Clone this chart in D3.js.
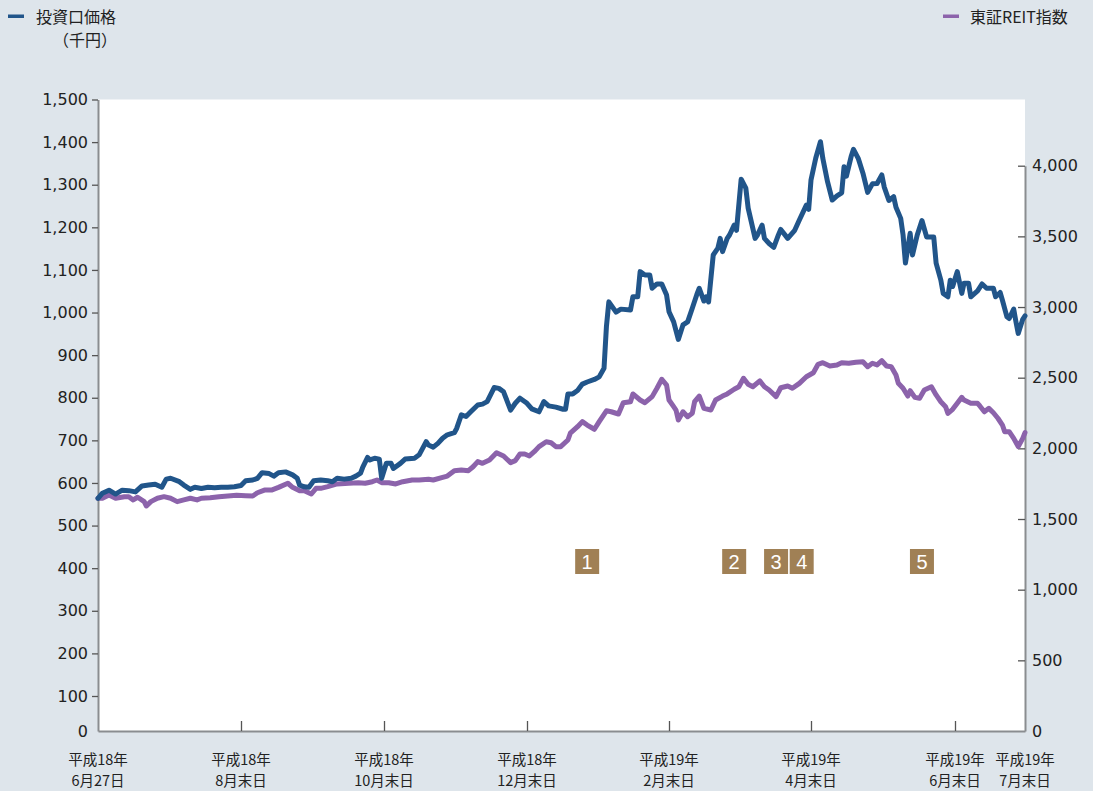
<!DOCTYPE html>
<html><head><meta charset="utf-8">
<script src="https://cdn.jsdelivr.net/npm/d3@7"></script>
<style>
html,body{margin:0;padding:0;background:#dee5eb;}
svg{display:block;}
</style></head><body>
<svg id="chart" width="1093" height="791"></svg>
<script>
// ---- DATA ----
const priceDates = ["2006-06-27","2006-06-29","2006-07-02","2006-07-05","2006-07-08","2006-07-11","2006-07-14","2006-07-17","2006-07-20","2006-07-23","2006-07-26","2006-07-28","2006-07-30","2006-08-03","2006-08-05","2006-08-08","2006-08-10","2006-08-13","2006-08-16","2006-08-19","2006-08-22","2006-08-25","2006-08-28","2006-08-31","2006-09-02","2006-09-05","2006-09-07","2006-09-09","2006-09-12","2006-09-14","2006-09-16","2006-09-19","2006-09-22","2006-09-24","2006-09-25","2006-09-27","2006-09-29","2006-10-01","2006-10-04","2006-10-07","2006-10-09","2006-10-11","2006-10-14","2006-10-17","2006-10-19","2006-10-21","2006-10-22","2006-10-24","2006-10-25","2006-10-27","2006-10-29","2006-10-30","2006-11-01","2006-11-03","2006-11-04","2006-11-07","2006-11-09","2006-11-13","2006-11-15","2006-11-18","2006-11-19","2006-11-21","2006-11-23","2006-11-25","2006-11-27","2006-11-30","2006-12-01","2006-12-03","2006-12-05","2006-12-07","2006-12-10","2006-12-12","2006-12-14","2006-12-17","2006-12-19","2006-12-21","2006-12-24","2006-12-26","2006-12-28","2006-12-31","2007-01-02","2007-01-05","2007-01-07","2007-01-09","2007-01-12","2007-01-15","2007-01-16","2007-01-17","2007-01-19","2007-01-21","2007-01-23","2007-01-25","2007-01-28","2007-01-30","2007-02-01","2007-02-02","2007-02-03","2007-02-06","2007-02-08","2007-02-12","2007-02-13","2007-02-15","2007-02-16","2007-02-18","2007-02-20","2007-02-21","2007-02-23","2007-02-25","2007-02-27","2007-02-28","2007-03-02","2007-03-04","2007-03-06","2007-03-08","2007-03-10","2007-03-12","2007-03-13","2007-03-15","2007-03-16","2007-03-17","2007-03-19","2007-03-21","2007-03-22","2007-03-23","2007-03-25","2007-03-26","2007-03-28","2007-03-29","2007-03-31","2007-04-02","2007-04-03","2007-04-06","2007-04-07","2007-04-09","2007-04-10","2007-04-12","2007-04-14","2007-04-16","2007-04-17","2007-04-20","2007-04-23","2007-04-25","2007-04-28","2007-04-29","2007-04-30","2007-05-02","2007-05-04","2007-05-05","2007-05-07","2007-05-09","2007-05-11","2007-05-13","2007-05-14","2007-05-15","2007-05-17","2007-05-18","2007-05-20","2007-05-22","2007-05-24","2007-05-26","2007-05-28","2007-05-30","2007-05-31","2007-06-02","2007-06-04","2007-06-05","2007-06-07","2007-06-08","2007-06-09","2007-06-11","2007-06-12","2007-06-14","2007-06-16","2007-06-18","2007-06-21","2007-06-22","2007-06-24","2007-06-25","2007-06-27","2007-06-28","2007-06-29","2007-07-01","2007-07-03","2007-07-04","2007-07-06","2007-07-07","2007-07-10","2007-07-12","2007-07-14","2007-07-17","2007-07-18","2007-07-20","2007-07-21","2007-07-23","2007-07-24","2007-07-26","2007-07-27","2007-07-28","2007-07-30","2007-07-31"];
const priceValues = [564,576,583,574,583,582,579,593,595,597,590,609,611,603,595,585,590,587,590,589,590,590,591,594,605,607,611,624,622,616,624,626,619,611,595,591,590,605,607,605,603,611,609,611,616,623,638,660,654,658,656,611,646,646,634,646,656,658,666,697,689,684,693,705,713,718,728,760,756,767,783,785,791,824,822,814,771,787,799,787,774,767,791,781,778,773,773,809,809,817,832,837,843,849,869,967,1025,1001,1008,1006,1037,1037,1096,1088,1088,1057,1067,1067,1041,1002,978,937,971,978,1010,1043,1057,1027,1037,1025,1135,1151,1174,1143,1174,1182,1205,1193,1313,1292,1245,1174,1182,1205,1174,1162,1153,1182,1195,1174,1193,1217,1252,1242,1311,1362,1401,1362,1307,1264,1274,1281,1342,1320,1366,1383,1362,1327,1282,1302,1303,1323,1295,1263,1272,1247,1221,1182,1116,1186,1135,1182,1216,1177,1177,1116,1076,1045,1037,1076,1061,1096,1045,1069,1069,1037,1051,1067,1057,1057,1037,1047,1029,990,986,1008,978,951,984,992];

const reitDates = ["2006-06-27","2006-06-29","2006-07-02","2006-07-05","2006-07-09","2006-07-11","2006-07-13","2006-07-15","2006-07-18","2006-07-19","2006-07-21","2006-07-24","2006-07-27","2006-07-30","2006-08-02","2006-08-05","2006-08-08","2006-08-11","2006-08-13","2006-08-17","2006-08-21","2006-08-25","2006-08-29","2006-09-02","2006-09-05","2006-09-07","2006-09-10","2006-09-13","2006-09-16","2006-09-20","2006-09-22","2006-09-25","2006-09-27","2006-09-30","2006-10-02","2006-10-04","2006-10-07","2006-10-11","2006-10-16","2006-10-20","2006-10-23","2006-10-26","2006-10-28","2006-10-30","2006-11-02","2006-11-05","2006-11-08","2006-11-12","2006-11-15","2006-11-19","2006-11-21","2006-11-25","2006-11-27","2006-11-30","2006-12-03","2006-12-06","2006-12-08","2006-12-10","2006-12-12","2006-12-15","2006-12-18","2006-12-21","2006-12-24","2006-12-26","2006-12-28","2006-12-30","2007-01-01","2007-01-03","2007-01-05","2007-01-08","2007-01-10","2007-01-12","2007-01-14","2007-01-17","2007-01-18","2007-01-21","2007-01-23","2007-01-25","2007-01-28","2007-01-30","2007-02-02","2007-02-04","2007-02-07","2007-02-09","2007-02-12","2007-02-13","2007-02-16","2007-02-18","2007-02-21","2007-02-23","2007-02-25","2007-02-27","2007-02-28","2007-03-02","2007-03-03","2007-03-04","2007-03-06","2007-03-08","2007-03-10","2007-03-11","2007-03-13","2007-03-15","2007-03-18","2007-03-20","2007-03-23","2007-03-25","2007-03-28","2007-03-30","2007-04-01","2007-04-03","2007-04-05","2007-04-08","2007-04-10","2007-04-12","2007-04-15","2007-04-17","2007-04-20","2007-04-22","2007-04-25","2007-04-28","2007-05-01","2007-05-03","2007-05-05","2007-05-08","2007-05-11","2007-05-13","2007-05-16","2007-05-19","2007-05-22","2007-05-24","2007-05-26","2007-05-28","2007-05-30","2007-06-01","2007-06-03","2007-06-05","2007-06-06","2007-06-08","2007-06-10","2007-06-11","2007-06-13","2007-06-15","2007-06-17","2007-06-20","2007-06-22","2007-06-24","2007-06-26","2007-06-27","2007-06-29","2007-07-01","2007-07-03","2007-07-04","2007-07-07","2007-07-10","2007-07-11","2007-07-13","2007-07-15","2007-07-17","2007-07-19","2007-07-21","2007-07-22","2007-07-24","2007-07-26","2007-07-28","2007-07-30","2007-07-31"];
const reitValues = [1647,1647,1670,1647,1658,1658,1635,1654,1623,1592,1623,1647,1658,1647,1623,1635,1647,1635,1647,1651,1658,1663,1668,1665,1663,1686,1705,1705,1724,1753,1724,1700,1700,1677,1717,1717,1729,1748,1753,1757,1753,1764,1776,1757,1757,1748,1764,1776,1776,1781,1776,1795,1804,1842,1847,1842,1870,1906,1894,1918,1969,1946,1899,1913,1960,1960,1946,1976,2012,2047,2040,2012,2012,2059,2107,2153,2189,2165,2135,2189,2266,2259,2243,2323,2330,2385,2342,2323,2366,2425,2489,2448,2342,2295,2271,2201,2259,2224,2248,2330,2370,2283,2271,2342,2370,2385,2418,2436,2496,2453,2436,2477,2436,2413,2366,2429,2441,2425,2460,2507,2535,2595,2606,2583,2590,2606,2602,2609,2613,2578,2602,2590,2620,2583,2578,2519,2460,2425,2370,2408,2361,2354,2413,2436,2378,2330,2295,2248,2276,2319,2361,2342,2319,2319,2300,2259,2283,2252,2213,2165,2118,2118,2071,2012,2071,2111];

const xTickDates = ["2006-06-27","2006-08-31","2006-10-31","2006-12-31","2007-02-28","2007-04-30","2007-06-30","2007-07-31"];
const xTickLabels = [["平成18年","6月27日"],["平成18年","8月末日"],["平成18年","10月末日"],["平成18年","12月末日"],["平成19年","2月末日"],["平成19年","4月末日"],["平成19年","6月末日"],["平成19年","7月末日"]];
const leftTicks = [0,100,200,300,400,500,600,700,800,900,1000,1100,1200,1300,1400,1500];
const rightTicks = [0,500,1000,1500,2000,2500,3000,3500,4000];
const markerDates = ["2007-01-25","2007-03-28","2007-04-15","2007-04-26","2007-06-16"];
const markerLabels = ["1","2","3","4","5"];
const seriesNames = ["投資口価格","東証REIT指数"];
const unitLabel = "（千円）";

// ---- LAYOUT ----
const W = 1093, H = 791;
const plotL = 98, plotR = 1025, plotT = 99.5, plotB = 731;
const xTickPx = [98,241,384,527,669,811,955,1025];
const blue = "#21558a", purple = "#8c63ab", boxCol = "#a08055";
const numFont = "'DejaVu Sans', Verdana, sans-serif";
const jpFont = "'Noto Sans CJK JP', 'Noto Sans', sans-serif";

const parse = d3.timeParse("%Y-%m-%d");
const svg = d3.select("#chart");

svg.append("rect").attr("x",0).attr("y",0).attr("width",W).attr("height",H).attr("fill","#dee5eb");
svg.append("rect").attr("x",plotL).attr("y",plotT).attr("width",plotR-plotL).attr("height",plotB-plotT).attr("fill","#fff");

const x = d3.scaleTime().domain(xTickDates.map(parse)).range(xTickPx);
const yL = d3.scaleLinear().domain([0,100,1500]).range([plotB,696,plotT]);
const yR = d3.scaleLinear().domain([0,4000]).range([plotB,165.7]);

// axes
const gL = svg.append("g").attr("transform",`translate(${plotL},0)`)
  .call(d3.axisLeft(yL).tickValues(leftTicks).tickSizeInner(6).tickSizeOuter(0).tickPadding(4).tickFormat(d3.format(",")));
const gR = svg.append("g").attr("transform",`translate(${plotR},0)`)
  .call(d3.axisRight(yR).tickValues(rightTicks).tickSizeInner(-7).tickSizeOuter(0).tickPadding(7).tickFormat(d3.format(",")));
const gB = svg.append("g").attr("transform",`translate(0,${plotB})`)
  .call(d3.axisBottom(x).tickValues(xTickDates.slice(1,-1).map(parse)).tickSizeInner(-10).tickSizeOuter(0).tickFormat(""));

[gL,gR,gB].forEach(g=>{
  g.select(".domain").attr("stroke","#8a8d90").attr("stroke-width",2);
  g.selectAll(".tick line").attr("stroke","#555").attr("stroke-width",1.3);
  g.selectAll(".tick text").attr("fill","#222").style("font-family",numFont).style("font-size","16px");
});
gL.selectAll(".tick").filter(d=>d===0).select("line").remove();
gR.selectAll(".tick").filter(d=>d===0).select("line").remove();

// bottom labels (two separate text lines per tick)
const lab = svg.append("g").style("font-family",jpFont).style("font-size","14.5px").attr("fill","#222").attr("text-anchor","middle");
xTickDates.forEach((d,i)=>{
  const cx = x(parse(d));
  lab.append("text").attr("x",cx).attr("y",765).text(xTickLabels[i][0]);
  lab.append("text").attr("x",cx).attr("y",786.3).text(xTickLabels[i][1]);
});

// lines
const reitData = reitDates.map((d,i)=>({date:parse(d),value:reitValues[i]}));
const priceData = priceDates.map((d,i)=>({date:parse(d),value:priceValues[i]}));
svg.append("path").datum(reitData).attr("fill","none").attr("stroke",purple).attr("stroke-width",5)
  .attr("stroke-linejoin","round").attr("stroke-linecap","round")
  .attr("d",d3.line().x(d=>x(d.date)).y(d=>yR(d.value)));
svg.append("path").datum(priceData).attr("fill","none").attr("stroke",blue).attr("stroke-width",5)
  .attr("stroke-linejoin","round").attr("stroke-linecap","round")
  .attr("d",d3.line().x(d=>x(d.date)).y(d=>yL(d.value)));

// markers
const mk = svg.append("g");
markerDates.forEach((d,i)=>{
  const cx = x(parse(d));
  mk.append("rect").attr("x",cx-12).attr("y",549).attr("width",24).attr("height",25).attr("fill",boxCol);
  mk.append("text").attr("x",cx).attr("y",568.5).attr("text-anchor","middle").attr("fill","#fff")
    .style("font-family","'Liberation Sans', Arial, sans-serif").style("font-size","20px").text(markerLabels[i]);
});

// legends
svg.append("rect").attr("x",8).attr("y",14.5).attr("width",16).attr("height",3.5).attr("fill",blue);
svg.append("text").attr("x",36).attr("y",22.5).attr("fill","#222").style("font-family",jpFont).style("font-size","16px").text(seriesNames[0]);
svg.append("text").attr("x",53).attr("y",45.5).attr("fill","#222").style("font-family",jpFont).style("font-size","16px").text(unitLabel);
svg.append("rect").attr("x",943).attr("y",14.5).attr("width",16).attr("height",3.5).attr("fill",purple);
svg.append("text").attr("x",970).attr("y",22.5).attr("fill","#222").style("font-family",jpFont).style("font-size","16px").text(seriesNames[1]);
</script>
</body></html>
